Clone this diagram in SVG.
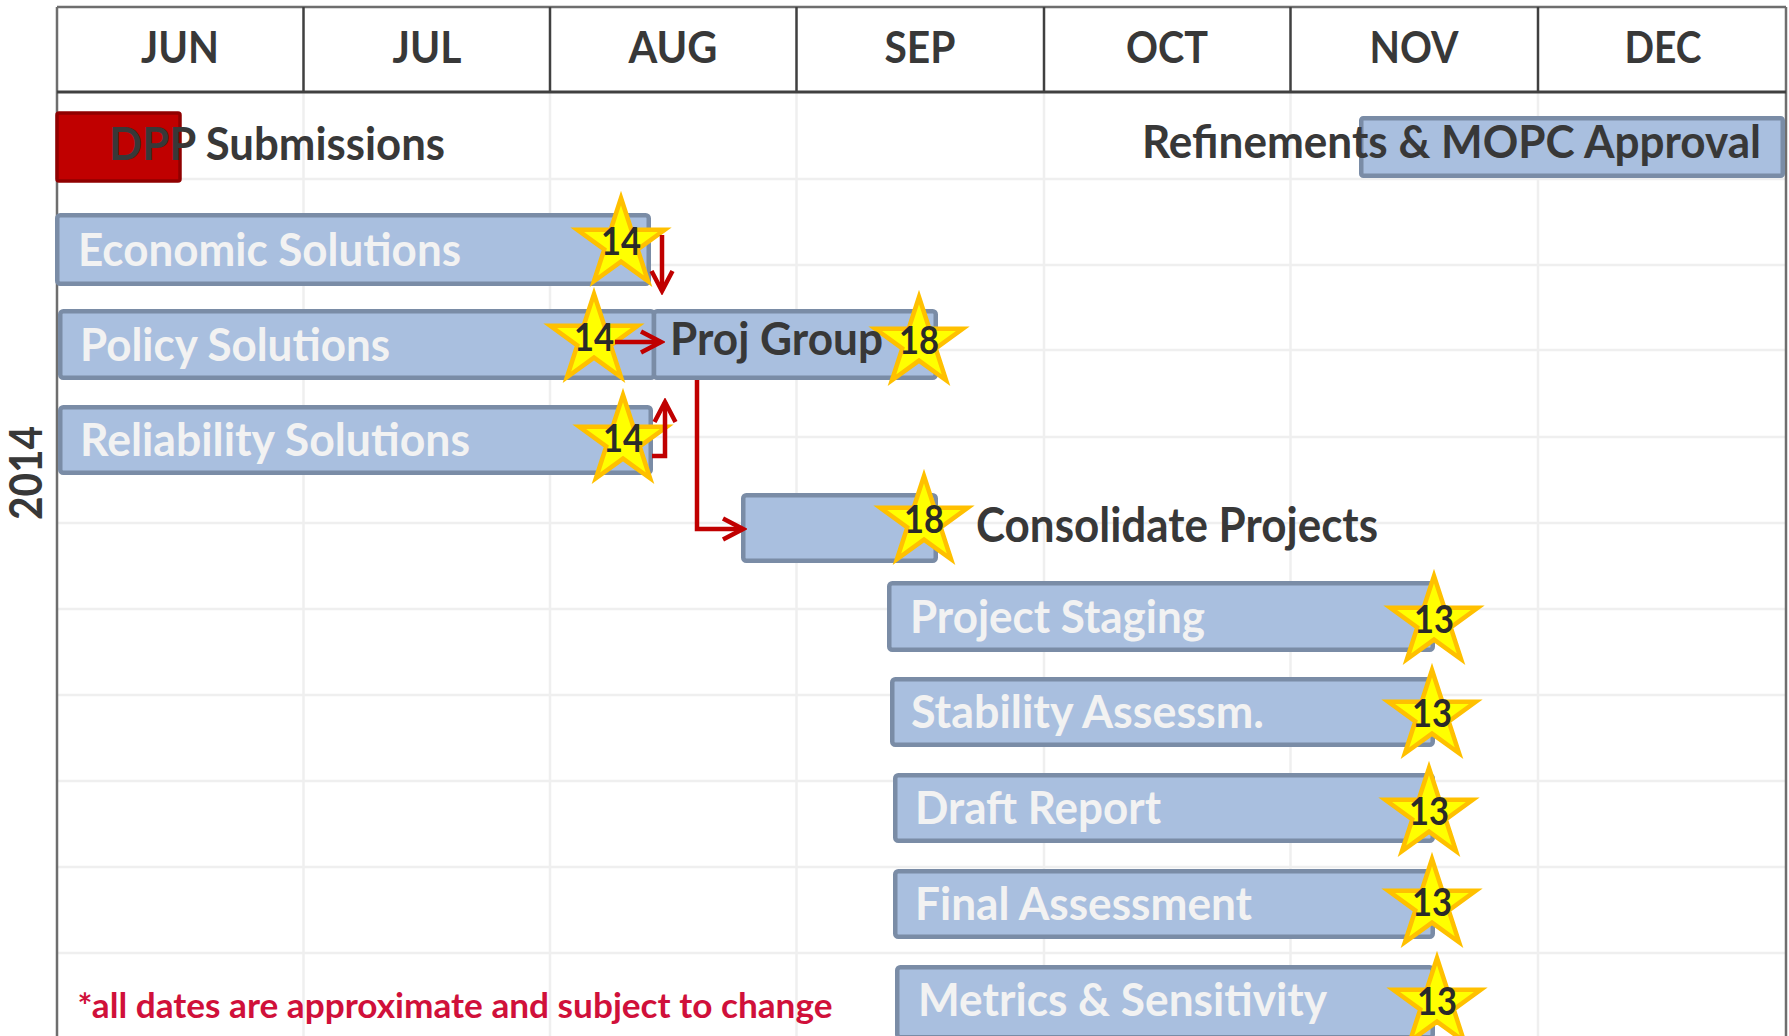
<svg xmlns="http://www.w3.org/2000/svg" width="1789" height="1036" viewBox="0 0 1789 1036">
<style>
  text { font-family: Lato, "Open Sans", "Liberation Sans", sans-serif; font-weight: bold; }
  .hdr { font-size: 44px; fill: #383838; text-anchor: middle; }
  .grid { stroke: #EFEFEF; stroke-width: 2.5; fill: none; }
  .hline { stroke: #404040; stroke-width: 2.5; fill: none; }
  .border { stroke: #6E6E6E; stroke-width: 2.5; fill: none; }
  .bar { fill: #A9BFDF; stroke: #7A8CA6; stroke-width: 4.5; }
  .lbl { font-size: 45px; fill: #F2F2F2; }
  .dark { fill: #383838; }
  .num { font-size: 38px; fill: #2A2A2A; text-anchor: middle; }
  .star { fill: #FFFF00; stroke: #FFC000; stroke-width: 4.5; stroke-linejoin: miter; }
  .conn { fill: none; stroke: #C00000; stroke-width: 4.5; stroke-linejoin: miter; }
</style>
<defs>
  <path id="star" class="star" d="M0,-46 L10.33,-14.22 L43.75,-14.21 L16.72,5.43 L27.04,37.21 L0,17.57 L-27.04,37.21 L-16.72,5.43 L-43.75,-14.21 L-10.33,-14.22 Z"/>
  <marker id="chev" markerUnits="userSpaceOnUse" viewBox="-26 -16 30 32" markerWidth="30" markerHeight="32" refX="0" refY="0" orient="auto">
    <path d="M-20,-10.5 L0,0 L-20,10.5" fill="none" stroke="#C00000" stroke-width="4.5"/>
  </marker>
</defs>
<rect x="0" y="0" width="1789" height="1036" fill="#FFFFFF"/>

<g id="grid">
  <path class="grid" d="M57,179H1786 M57,265H1786 M57,350H1786 M57,437H1786 M57,523H1786 M57,609H1786 M57,695H1786 M57,781H1786 M57,867H1786 M57,953H1786"/>
  <path class="grid" d="M303.5,92V1036 M550,92V1036 M796.5,92V1036 M1044,92V1036 M1290.5,92V1036 M1538,92V1036"/>
</g>

<g id="header">
  <path class="border" d="M57,7H1786 M57,7V1036 M1786,7V1036"/>
  <path class="hline" d="M303.5,7V92 M550,7V92 M796.5,7V92 M1044,7V92 M1290.5,7V92 M1538,7V92"/>
  <path d="M57,92H1786" stroke="#404040" stroke-width="3"/>
  <text class="hdr" x="180" y="63" textLength="78" lengthAdjust="spacingAndGlyphs">JUN</text>
  <text class="hdr" x="427" y="63" textLength="69" lengthAdjust="spacingAndGlyphs">JUL</text>
  <text class="hdr" x="673" y="63" textLength="89" lengthAdjust="spacingAndGlyphs">AUG</text>
  <text class="hdr" x="920" y="63" textLength="71" lengthAdjust="spacingAndGlyphs">SEP</text>
  <text class="hdr" x="1167" y="63" textLength="82" lengthAdjust="spacingAndGlyphs">OCT</text>
  <text class="hdr" x="1414" y="63" textLength="89" lengthAdjust="spacingAndGlyphs">NOV</text>
  <text class="hdr" x="1663" y="63" textLength="77" lengthAdjust="spacingAndGlyphs">DEC</text>
</g>

<g id="year">
  <text transform="translate(42,473) rotate(-90)" x="0" y="0" font-size="46" fill="#383838" text-anchor="middle" textLength="94" lengthAdjust="spacingAndGlyphs">2014</text>
</g>

<g id="dpp">
  <rect x="57" y="113" width="123" height="68" rx="2" fill="#C00000" stroke="#900000" stroke-width="3.5"/>
  <text class="dark" x="109" y="160" font-size="46" textLength="336" lengthAdjust="spacingAndGlyphs">DPP Submissions</text>
</g>

<g id="refinements">
  <rect class="bar" x="1361.25" y="118.25" width="421.5" height="57.5" rx="2"/>
  <text class="dark" x="1142" y="158" font-size="46" textLength="619" lengthAdjust="spacingAndGlyphs">Refinements &amp; MOPC Approval</text>
</g>

<g id="economic">
  <rect class="bar" x="57.25" y="215.25" width="591.5" height="68.5" rx="3"/>
  <text class="lbl" x="78" y="266" textLength="383" lengthAdjust="spacingAndGlyphs">Economic Solutions</text>
  <use href="#star" x="621" y="244"/>
  <text class="num" x="621" y="255" textLength="40" lengthAdjust="spacingAndGlyphs">14</text>
</g>

<g id="policy">
  <rect class="bar" x="60.25" y="311.25" width="593.75" height="66.5" rx="3"/>
  <text class="lbl" x="80" y="361" textLength="310" lengthAdjust="spacingAndGlyphs">Policy Solutions</text>
  <use href="#star" x="594" y="340"/>
  <text class="num" x="594" y="351" textLength="40" lengthAdjust="spacingAndGlyphs">14</text>
</g>

<g id="projgroup">
  <rect class="bar" x="654" y="311.25" width="281.75" height="66.5" rx="3"/>
  <use href="#star" x="919" y="343"/>
  <text class="num" x="919" y="354" textLength="40" lengthAdjust="spacingAndGlyphs">18</text>
  <text class="dark" x="670" y="355" font-size="45" textLength="213" lengthAdjust="spacingAndGlyphs">Proj Group</text>
</g>

<g id="reliability">
  <rect class="bar" x="60.25" y="407.25" width="590.5" height="65.5" rx="3"/>
  <text class="lbl" x="80" y="456" textLength="390" lengthAdjust="spacingAndGlyphs">Reliability Solutions</text>
  <use href="#star" x="623" y="441"/>
  <text class="num" x="623" y="452" textLength="40" lengthAdjust="spacingAndGlyphs">14</text>
</g>

<g id="consolidate">
  <rect class="bar" x="743.25" y="495.25" width="192.5" height="65.5" rx="3"/>
  <use href="#star" x="924" y="522"/>
  <text class="num" x="924" y="533" textLength="40" lengthAdjust="spacingAndGlyphs">18</text>
  <text class="dark" x="976" y="542" font-size="47" textLength="402" lengthAdjust="spacingAndGlyphs">Consolidate Projects</text>
</g>

<g id="staging">
  <rect class="bar" x="889.25" y="583.25" width="543.5" height="66.5" rx="3"/>
  <text class="lbl" x="910" y="633" textLength="295" lengthAdjust="spacingAndGlyphs">Project Staging</text>
  <use href="#star" x="1434" y="622"/>
  <text class="num" x="1434" y="633" textLength="40" lengthAdjust="spacingAndGlyphs">13</text>
</g>

<g id="stability">
  <rect class="bar" x="892.25" y="679.25" width="540.5" height="65.5" rx="3"/>
  <text class="lbl" x="911" y="728" textLength="353" lengthAdjust="spacingAndGlyphs">Stability Assessm.</text>
  <use href="#star" x="1432" y="716"/>
  <text class="num" x="1432" y="727" textLength="40" lengthAdjust="spacingAndGlyphs">13</text>
</g>

<g id="draft">
  <rect class="bar" x="895.25" y="775.25" width="537.5" height="65.5" rx="3"/>
  <text class="lbl" x="915" y="824" textLength="246" lengthAdjust="spacingAndGlyphs">Draft Report</text>
  <use href="#star" x="1429" y="814"/>
  <text class="num" x="1429" y="825" textLength="40" lengthAdjust="spacingAndGlyphs">13</text>
</g>

<g id="final">
  <rect class="bar" x="895.25" y="871.25" width="537.5" height="65.5" rx="3"/>
  <text class="lbl" x="915" y="920" textLength="337" lengthAdjust="spacingAndGlyphs">Final Assessment</text>
  <use href="#star" x="1432" y="905"/>
  <text class="num" x="1432" y="916" textLength="40" lengthAdjust="spacingAndGlyphs">13</text>
</g>

<g id="metrics">
  <rect class="bar" x="897.25" y="967.25" width="535.5" height="70" rx="3"/>
  <text class="lbl" x="918" y="1016" textLength="409" lengthAdjust="spacingAndGlyphs">Metrics &amp; Sensitivity</text>
  <use href="#star" x="1437" y="1004"/>
  <text class="num" x="1437" y="1015" textLength="40" lengthAdjust="spacingAndGlyphs">13</text>
</g>

<g id="connectors">
  <path class="conn" d="M662,235 L662,291" marker-end="url(#chev)"/>
  <path class="conn" d="M615,342 L661,342" marker-end="url(#chev)"/>
  <path class="conn" d="M652,456 L665,456 L665,402" marker-end="url(#chev)"/>
  <path class="conn" d="M697,380 L697,529 L743,529" marker-end="url(#chev)"/>
</g>

<g id="note">
  <text x="77.5" y="1018" font-size="35" fill="#D0103A" textLength="755" lengthAdjust="spacingAndGlyphs">*all dates are approximate and subject to change</text>
</g>
</svg>
